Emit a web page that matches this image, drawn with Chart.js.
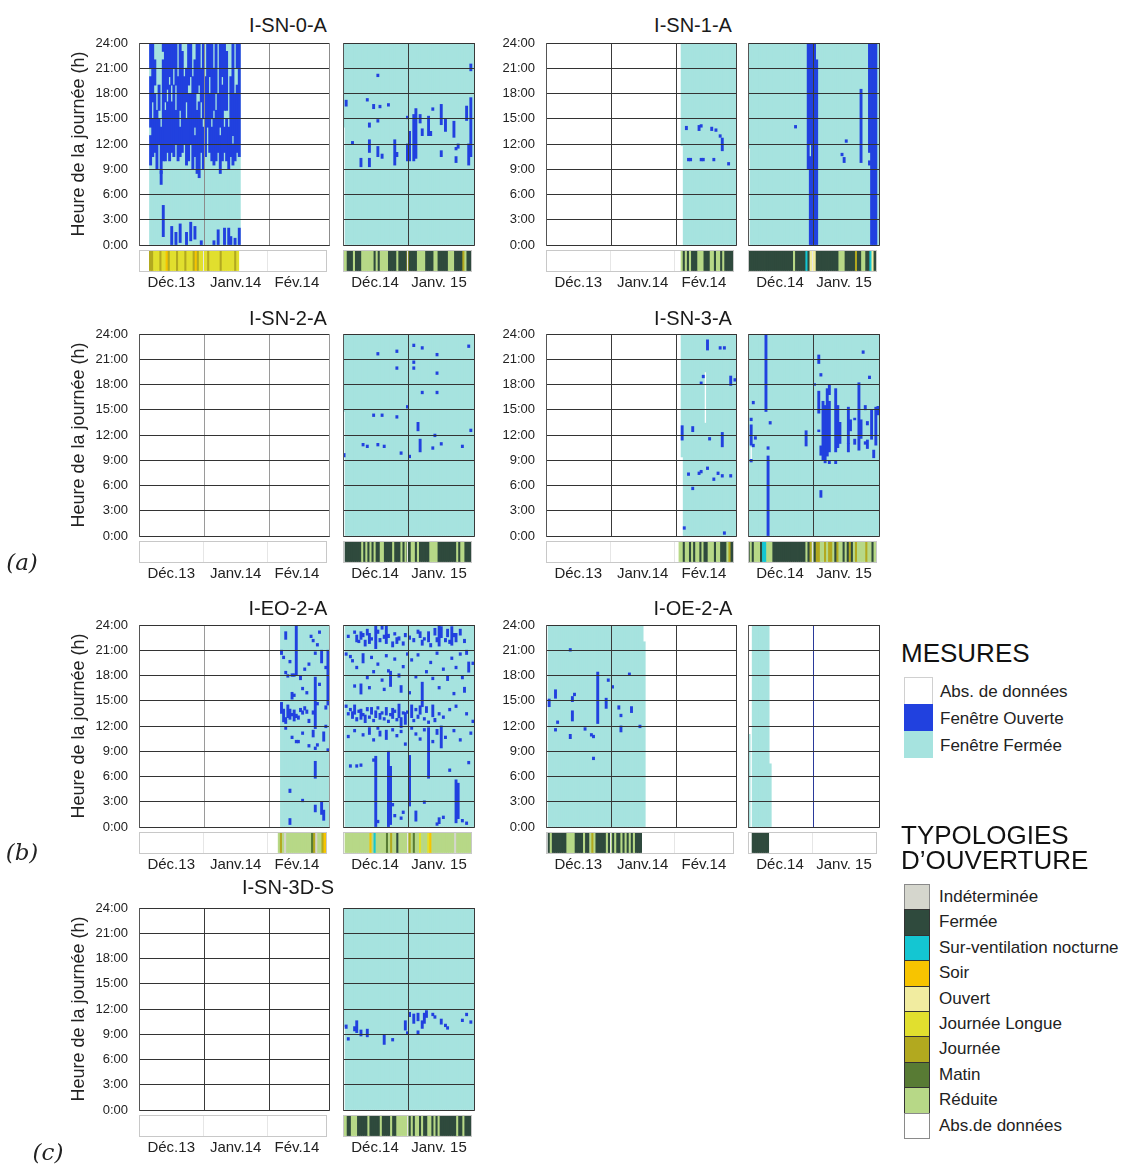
<!DOCTYPE html>
<html>
<head>
<meta charset="utf-8">
<script src="https://cdn.jsdelivr.net/npm/chart.js@4.4.0/dist/chart.umd.min.js"></script>
<style>
  body { margin:0; width:1135px; height:1164px; position:relative; overflow:hidden; background:#fff;
         font-family:"Liberation Sans", Arial, sans-serif; color:#222; }
  canvas { position:absolute; }
  .box { position:absolute; box-sizing:border-box; }
</style>
</head>
<body>
<script>
// ---- axes / categories ----
const hourTicks = [0, 3, 6, 9, 12, 15, 18, 21, 24];
const months13 = ['Déc.13', 'Janv.14', 'Fév.14'];
const months14 = ['Déc.14', 'Janv. 15'];
const bounds13 = [0, 31, 62, 90];   // days from 1 Dec 2013
const bounds14 = [0, 31, 62];       // days from 1 Dec 2014

// typology codes: I Indéterminée, F Fermée, N Sur-ventilation, S Soir, O Ouvert,
// L Journée Longue, J Journée, M Matin, R Réduite, - absence
const typoCodes = ['I', 'F', 'N', 'S', 'O', 'L', 'J', 'M', 'R', '-'];
const typoLabels = ['Indéterminée', 'Fermée', 'Sur-ventilation nocturne', 'Soir', 'Ouvert',
                    'Journée Longue', 'Journée', 'Matin', 'Réduite', 'Abs.de données'];
const typoColors = ['#d5d6cd', '#2f4a3d', '#14c6d2', '#f7c400', '#f1eca0',
                    '#e1df2e', '#b2a91f', '#587b34', '#b7d887', '#ffffff'];
const mesureLabels = ['Abs. de données', 'Fenêtre Ouverte', 'Fenêtre Fermée'];
const mesureColors = ['#ffffff', '#2141df', '#a6e3df'];

// ---- I-SN-0-A ----  closed: [fromDay, toDay, h0, h1]   open: [day, h0, h1]
const sn0a_closed13 = [[5, 47, 0, 24]];
const sn0a_open13 = [
  [5,9.5,13],[5,14,20],[5,21,24],[6,10.5,15],[6,17,24],[7,11,18],[7,19,22],[8,9,16],[9,12,15],[9,16,19],[10,8.5,14],
  [10,7.2,8.8],[11,10,22],[11,23,24],[12,10,16],[12,17,24],[13,11,17],[13,18.5,24],[14,10,19],[14,20,24],[15,11,17],[15,19,24],
  [16,10.5,19],[16,21,24],[17,12,16],[17,19,24],[18,10,20],[19,10.5,14],[19,16,24],[20,11,23],[21,12,20],[22,9.5,15],[22,17,21],
  [23,10,18],[23,19,24],[24,12,18],[24,20,24],[25,9,20],[26,10.5,13],[26,14,22],[27,8.5,16],[27,18,24],[28,8,17],[28,19,24],
  [29,11,15],[29,17,21],[30,9,14],[30,15,24],[31,10.5,20],[32,14,24],[33,11,18],[33,20,24],[34,10,14],[34,15,24],
  [35,9.5,15],[35,16,21],[36,10,16],[36,18,24],[37,11,18],[38,8.5,13],[38,14,24],[39,10,19],[39,20,24],[40,11,14],[40,16,24],
  [41,10,15],[41,16,23],[42,9,14],[43,10.5,20],[44,9.5,12],[44,13,24],[45,10,18],[46,11,19],[46,21,24],[47,10.5,24],
  [11,1,4.7],[15,0,2.2],[17,0,1.5],[19,0.3,2.5],[22,0,1.5],[24,0.5,2.7],[26,0.7,2.2],[29,0,0.5],[35,0,0.5],
  [37,0,1.8],[40,0,2],[42,0,2],[43,0,1],[45,0,0.8],[47,0,2]
];
const sn0a_typo13 = '-----JJLLLJLLSJLLLJLLLJLLLJSJLLLLJLLLLLJLLLLLLJL';
const sn0a_closed14 = [[0, 0, 14, 24], [1, 61, 0, 24]];
const sn0a_open14 = [
  [1,16.5,17.2],[4,12,12.3],[8,9.3,10.3],[11,17.1,17.4],[12,9.3,10.3],[12,11,12.5],[12,14,14.5],[14,16.2,16.7],
  [16,20,20.3],[16,14.6,14.9],[16,10.5,11.7],[17,16.3,16.6],[18,10.3,10.8],[21,16.5,16.8],[24,9.5,12.5],
  [25,10.5,11],[30,15,15.3],[30,10,12],[31,10,13.5],[33,10,15.5],[34,10.3,16.2],[36,14.5,15.5],[37,13,13.8],
  [40,13,15.3],[41,13,13.5],[42,16,16.3],[46,14.3,16.7],[46,10.5,11.2],[48,13.5,15],[52,12.8,14.7],
  [53,11.3,11.6],[53,9.8,10.5],[54,11.5,12],[58,14.8,16.5],[59,9.5,12],[60,10.5,17.5],[60,20.7,21.5]
];
const sn0a_typo14 = 'RRFFFRFFFRRRRRRFRFRRRRFFFFRFFFFJFFFFRRRRFFFFRRFFFFFRRRFFFFJRFF';

// ---- I-SN-1-A ----
const sn1a_closed13 = [[64, 64, 11.8, 24], [65, 89, 0, 24]];
const sn1a_open13 = [
  [66,13.7,14.1],[67,10,10.3],[68,10,10.3],[72,13.6,14.2],[73,14,14.3],[73,10,10.3],[74,10,10.3],
  [78,13.6,14],[79,10,10.3],[80,13.5,13.8],[82,12.8,13.1],[83,11.2,12.7],[86,9.5,9.8]
];
const sn1a_typo13 = '-'.repeat(65) + 'RFRFRFFFRRRFFFRRFRRFRFFFF';
const sn1a_closed14 = [[0, 0, 11.5, 24], [1, 61, 0, 24]];
const sn1a_open14 = [
  [22,13.9,14.2],[28,9,24],[29,0,10.5],[29,12,24],[30,0,24],[31,0,24],[32,0,22],
  [44,10.6,10.9],[45,9.8,10.4],[46,12.2,12.5],[53,9.8,18.5],[57,9.5,10],[57,11,24],[58,0,24],[59,0,24],[60,0,24]
];
const sn1a_typo14 = 'FFFFFFFFFFFFFFFFFFFFFFRFFFFFNFOOOFFFFFFFFFFFRRRFFFFFJFFRRFFNOF';

// ---- I-SN-2-A ----
const sn2a_closed13 = [];
const sn2a_open13 = [];
const sn2a_typo13 = '';
const sn2a_closed14 = [[0, 0, 14.8, 24], [1, 61, 0, 24]];
const sn2a_open14 = [
  [0,9.4,9.8],[9,10.7,11],[11,10.5,10.8],[14,14.2,14.5],[16,21.5,21.8],[16,10.7,11],[18,14.2,14.5],[19,10.5,10.8],
  [25,21.8,22.1],[25,19.8,20.1],[25,14,14.3],[27,9.7,10],[30,15.2,15.5],[31,9.3,9.6],[33,22.5,22.8],[33,20.5,20.8],
  [33,19.8,20.1],[35,12.5,13.5],[36,10,11.5],[37,22.2,22.5],[37,16.9,17.2],[42,10.3,10.6],[43,11.8,12.1],
  [44,21.4,21.7],[44,19.2,19.5],[44,16.9,17.2],[46,10.8,11.1],[56,10.5,10.8],[59,22.4,22.7],[60,12.4,12.7]
];
const sn2a_typo14 = '-FFFFFFFFRFRFRFRFFRRFFFFRFFFRFRFFRRFRFFFFFRRRRFFFFFFFFFRFRRFFF';

// ---- I-SN-3-A ----
const sn3a_closed13 = [[64, 64, 9.4, 24], [65, 74, 0, 24], [75, 75, 0, 13.4], [75, 75, 19.5, 24], [76, 89, 0, 24]];
const sn3a_open13 = [
  [64,11.4,13.1],[65,0.8,1.1],[67,7.2,7.5],[69,12.4,13],[69,5.5,5.8],[72,7.3,7.6],[73,7.5,7.8],[73,18,18.3],
  [74,18.8,19.1],[76,22.1,23.3],[77,11.4,11.7],[76,7.9,8.2],[79,6.6,6.9],[82,22.2,22.5],[84,22.2,22.5],
  [81,7.3,7.6],[83,7,7.3],[83,10.6,12.3],[84,0.2,0.5],[87,17.9,19],[87,7,7.3],[89,18.4,18.7]
];
const sn3a_typo13 = '-'.repeat(64) + 'RRFRRFRFRRFRFFRRRFRRFFFRJF';
const sn3a_closed14 = [[0, 0, 0, 24], [1, 1, 0, 9], [1, 1, 10.6, 24], [2, 61, 0, 24]];
const sn3a_open14 = [
  [8,14.8,24],[9,0,9.5],[1,10.8,13.2],[1,13.7,14],[1,8.8,9.1],[2,10.6,10.9],[2,15.7,16],[3,11.5,11.8],
  [9,10.3,10.6],[10,13.3,13.6],[27,10.7,12.5],[31,17.9,18.1],[33,20.5,21.5],[34,19,19.3],[33,14.6,17.2],
  [33,12.4,12.6],[34,9.6,10.7],[34,4.6,5.4],[35,9,16],[36,8.7,15.5],[37,9.5,17.5],[38,10,16],[38,16.8,18],
  [38,8.6,8.9],[41,8.6,8.9],[41,10,17.5],[42,10.5,15.5],[43,11,13.5],[47,11,15.3],[47,10,11],[48,12.5,13.8],
  [50,10.9,11.5],[50,13.8,14],[52,10.2,18.2],[53,11.6,13.8],[54,21.7,22],[57,18.7,19],[55,15,15.5],
  [56,13.2,13.6],[56,10.4,11.4],[55,10.9,11.2],[58,11.5,15],[59,9.3,10.2],[60,10.8,15.3],[61,14.4,15.4]
];
const sn3a_typo14 = 'FRFRRRFNNRRR' + 'FFFFFFFFFFFFFFFF' + 'RFJRFJJRRJRJJRFJRRFRFJFRJRRRRJRRFR';

// ---- I-EO-2-A ----
const eo2a_closed13 = [[67, 89, 0, 24]];
const eo2a_open13 = [
  [69,22.3,23.2],[74,18,24],[81,22.5,22.8],[82,22,22.3],[84,21.5,21.8],[85,23,23.3],[83,20.5,20.8],
  [67,20.5,21],[68,20,20.3],[71,19.5,19.8],[69,18.2,18.5],[70,17.8,18.1],[72,17.9,18.2],[73,17.9,18.2],
  [76,17.5,18],[78,18.6,18.9],[80,19.2,19.5],[86,19.5,21],[88,18.8,19.1],[83,11.7,17.8],[89,14.5,21],
  [72,15.2,16],[73,15.5,15.8],[77,16.3,16.6],[79,15.8,16.1],[85,16.8,17.1],
  [67,13.5,14.8],[68,12.5,14],[69,12.3,13],[70,13,14.5],[71,12.8,14],[72,13.2,13.5],[73,12.6,13.9],
  [74,13,13.4],[75,12.8,13.2],[76,13.7,14.1],[77,13.4,13.8],[78,13.9,14.3],[79,13.5,13.9],[80,12.4,12.8],
  [82,13.4,13.8],[84,14.5,14.8],[88,14,14.4],[69,11.6,11.9],[72,10.5,10.8],[74,10,10.3],[75,10,10.3],
  [77,11,11.3],[80,9.5,9.8],[82,10.7,11.5],[84,9.6,9.9],[87,10.2,11.3],[88,11.8,12.1],[89,9,9.3],
  [83,9.2,9.5],[83,5.8,7.8],[71,4.1,4.5],[77,3,3.3],[83,1.8,2.6],[86,1.5,3],[87,0.8,2],[71,0.3,1]
];
const eo2a_typo13 = '-'.repeat(67) + 'RJRIRRRRRRRRRRRRMJIRRJS';
const eo2a_closed14 = [[1, 61, 0, 24]];
const eo2a_open14 = [
  [2,22.5,22.8],[5,23,23.3],[6,22,22.8],[7,21.9,22.2],[8,22.3,23.2],[9,22.6,23],[10,21.5,22.2],[11,22.8,23.5],
  [12,21.8,23],[13,22.2,22.5],[15,21.2,24],[16,23,23.4],[17,22,22.4],[18,23.5,24],[19,22.4,22.8],[20,21.8,24],
  [21,22.5,22.9],[23,21.4,22],[24,22.8,23.1],[25,21.8,22.5],[26,22.2,22.6],[28,21.6,22],[29,22.6,23],
  [31,22.3,22.7],[33,22,22.4],[35,23,23.4],[36,22.5,23.2],[37,21.6,22.2],[38,22.2,22.5],[40,22,23.2],
  [41,21.4,21.8],[43,22.8,23.6],[44,22,22.5],[45,21.5,24],[46,22.5,23.8],[48,22,22.4],[49,22.6,23.5],
  [50,21.8,22.2],[51,21.6,23.8],[52,22.6,23],[53,22,23],[55,22.8,23.5],[57,21.9,22.3],
  [1,20.4,20.7],[3,20.1,20.4],[4,19.6,19.9],[6,18.8,19.1],[9,19.5,20.6],[11,17.6,18],[13,20,20.3],
  [14,18.3,18.6],[16,19.2,19.5],[18,17.3,17.6],[20,20.2,20.5],[21,18.4,18.7],[22,16.7,18.5],[24,19.8,20.1],
  [26,17.8,18.2],[28,18.9,19.2],[30,20.4,20.7],[32,19.7,20],[34,17.7,18],[35,20.3,20.6],[37,14.3,17.2],
  [39,18.3,18.6],[41,19.4,19.7],[42,17.5,17.8],[44,20.5,20.8],[47,18.6,18.9],[49,17.4,18],[51,19.9,20.2],
  [53,18.8,19.1],[55,20.4,20.7],[56,17.6,17.9],[58,20.5,21],[59,18.4,19.6],[61,19.3,19.6],
  [5,16.6,16.9],[8,15.8,17],[12,16.4,16.7],[19,16.2,16.5],[27,16,16.8],[31,15.8,16.1],[45,16.4,16.7],
  [52,15.7,16],[57,16,16.6],
  [1,14.2,14.5],[2,13.3,13.6],[3,13.8,14.1],[4,12.9,13.7],[5,13.4,14.5],[6,12.6,13],[7,13.6,13.9],[8,12.8,14],
  [9,13.2,13.5],[10,12.4,13.3],[11,13.8,14.2],[12,12.9,13.2],[13,13.4,14.2],[14,12.5,12.8],[15,13,13.8],
  [16,14,14.3],[17,12.8,13.5],[18,13.4,13.7],[19,12.7,13],[20,13.3,14.2],[21,12.4,12.7],[22,13.2,13.5],
  [23,12.9,14.1],[24,13.6,13.9],[25,12.6,12.9],[26,13,14.6],[27,11.8,13],[28,13.4,13.7],[29,12.2,13.6],
  [30,13.5,13.8],[32,13,14.5],[33,12.5,12.8],[34,13.8,14.1],[35,12.9,13.3],[36,13.4,14.4],[38,12.7,13],
  [39,13.6,14.3],[40,12.3,12.6],[42,13.1,14.5],[43,12.5,12.9],[45,13.3,13.6],[47,12.9,13.2],[50,13.8,14.1],
  [53,14.2,14.5],[58,13.3,13.6],[61,12.4,12.7],
  [2,10.6,10.9],[5,11.3,11.6],[9,10.8,11.1],[12,11,11.8],[14,10.2,10.5],[16,11.6,11.9],[17,10.8,11.4],
  [20,10.4,11.5],[23,11.4,11.7],[25,10.7,11],[27,11.2,11.5],[29,9.7,10],[32,11.6,11.9],[34,10.9,11.2],
  [36,10.3,10.6],[38,11.4,11.7],[42,10,10.3],[44,11,11.6],[46,9.4,12],[48,10.5,10.8],[52,11.3,11.6],
  [55,10.2,10.5],[60,11,11.3],
  [3,7.1,7.4],[6,7.1,7.4],[8,7.2,7.5],[14,7.8,8.1],[15,0,8.4],[16,0.5,0.8],[21,0,9],[22,0.3,7.2],[23,2.5,2.8],
  [24,1.2,1.5],[27,0.9,1.2],[28,1.6,1.9],[31,2.5,8.5],[34,0.7,1.9],[38,2.8,3.1],[40,5.8,11.8],[44,0.2,0.5],
  [45,0.4,1.1],[47,1,1.3],[50,6.6,6.9],[53,0.5,5.6],[54,1,5.2],[56,0.6,0.9],[58,0.3,0.6],[59,7.5,7.8]
];
const eo2a_typo14 = '-RRRRRRRRRRRRSRNRRRRRMRJRRFRRRRRJRMRRLRRRLSRRRRRRRRRRRIRRRRRRR';

// ---- I-OE-2-A ----
const oe2a_closed13 = [[1, 45, 0, 24], [46, 46, 0, 22]];
const oe2a_open13 = [
  [1,14.3,15.2],[4,15.3,16.3],[4,11.4,11.7],[5,12.3,12.6],[11,20.9,21.2],[11,10.5,11],[12,14.9,15.5],
  [13,15.6,15.9],[12,12.6,13.8],[18,11.5,11.8],[21,10.8,11.1],[22,10.6,10.9],[22,8,8.3],[24,12.3,18.4],
  [28,14.1,15.3],[29,17.3,17.6],[31,16.5,16.8],[34,14,14.4],[35,13.1,13.4],[35,11.3,12],[39,18,18.3],
  [40,13.6,14.3],[44,11.8,12.1]
];
const oe2a_typo13 = '-FRFFFFFFFRRRRFFFFRFFRJRFFFFFRFRFRFFRFRFRFRFFF';
const oe2a_closed14 = [[0, 0, 0, 11], [2, 9, 0, 24], [10, 10, 0, 7.5]];
const oe2a_open14 = [];
const oe2a_typo14 = '--FFFFFFFF';

// ---- I-SN-3D-S ----
const sn3ds_closed13 = [];
const sn3ds_open13 = [];
const sn3ds_typo13 = '';
const sn3ds_closed14 = [[0, 0, 9.9, 24], [1, 61, 0, 24]];
const sn3ds_open14 = [
  [1,9.7,10.1],[2,8.3,8.6],[5,9.4,9.9],[6,9.2,10.6],[8,8.8,9.5],[11,8.7,9.6],[19,7.8,8.9],[23,8.2,8.5],
  [29,9.5,10.6],[30,9,9.3],[31,11.1,11.6],[33,10.3,11.4],[35,10.6,11.5],[35,9,9.4],[37,9.7,10.6],
  [38,10.3,11.5],[39,11,11.8],[42,11.2,11.5],[43,10.9,11.2],[46,10.2,10.8],[48,9.9,10.2],[49,9.6,9.9],
  [56,10.5,10.8],[58,11.2,11.5],[60,10.3,10.6]
];
const sn3ds_typo14 = 'RRFFRRRFFFFFRFFFFFRFFFFRFFRRRRRRFRFRRFRFFRRFRFRFFFFFFFFRFFRFFF';

// ---- page layout ----
const FONT = '"Liberation Sans", Arial, sans-serif';
const TEAL = mesureColors[2], BLUE = mesureColors[1];
const cols = [{l13: 139, l14: 343, tx: 288}, {l13: 546, l14: 748, tx: 693}];
const rows = [{top: 43, strip: 250, ty: 25}, {top: 334, strip: 541, ty: 318},
              {top: 625, strip: 832, ty: 608}, {top: 908, strip: 1115, ty: 887}];
const W13 = 190, W14 = 131, PH = 202, SH = 21;

const panels = [
  {name: 'I-SN-0-A', col: 0, row: 0, c13: sn0a_closed13, o13: sn0a_open13, t13: sn0a_typo13, c14: sn0a_closed14, o14: sn0a_open14, t14: sn0a_typo14, g13: '#8c8c8c'},
  {name: 'I-SN-1-A', col: 1, row: 0, c13: sn1a_closed13, o13: sn1a_open13, t13: sn1a_typo13, c14: sn1a_closed14, o14: sn1a_open14, t14: sn1a_typo14},
  {name: 'I-SN-2-A', col: 0, row: 1, c13: sn2a_closed13, o13: sn2a_open13, t13: sn2a_typo13, c14: sn2a_closed14, o14: sn2a_open14, t14: sn2a_typo14, g13: '#9a9a9a'},
  {name: 'I-SN-3-A', col: 1, row: 1, c13: sn3a_closed13, o13: sn3a_open13, t13: sn3a_typo13, c14: sn3a_closed14, o14: sn3a_open14, t14: sn3a_typo14},
  {name: 'I-EO-2-A', col: 0, row: 2, c13: eo2a_closed13, o13: eo2a_open13, t13: eo2a_typo13, c14: eo2a_closed14, o14: eo2a_open14, t14: eo2a_typo14, g13: '#9a9a9a'},
  {name: 'I-OE-2-A', col: 1, row: 2, c13: oe2a_closed13, o13: oe2a_open13, t13: oe2a_typo13, c14: oe2a_closed14, o14: oe2a_open14, t14: oe2a_typo14, mid14: '#2a3a9a'},
  {name: 'I-SN-3D-S', col: 0, row: 3, c13: sn3ds_closed13, o13: sn3ds_open13, t13: sn3ds_typo13, c14: sn3ds_closed14, o14: sn3ds_open14, t14: sn3ds_typo14}
];

function addText(txt, x, y, css) {
  const d = document.createElement('div');
  d.textContent = txt;
  d.style.cssText = 'position:absolute;white-space:nowrap;left:' + x + 'px;top:' + y + 'px;' + css;
  document.body.appendChild(d);
  return d;
}

function addCanvas(w, h) {
  const cv = document.createElement('canvas');
  cv.width = w; cv.height = h;
  cv.style.width = w + 'px'; cv.style.height = h + 'px';
  document.body.appendChild(cv);
  return cv;
}

// move canvas so the chart area lands on (px, py)
function place(chart, cv, px, py) {
  const ca = chart.chartArea;
  cv.style.left = (px - ca.left) + 'px';
  cv.style.top = (py - ca.top) + 'px';
}

function mainChart(px, py, pw, nDays, bounds, closed, open, opt) {
  const yw = opt.ticks ? 80 : 0;
  const cv = addCanvas(yw + pw + 4, PH + 48);
  const closedPts = [];
  closed.forEach(([a, b, s, e]) => { for (let d = a; d <= b; d++) closedPts.push({x: d + 0.5, y: [s, e]}); });
  const openPts = open.map(([d, s, e]) => ({x: d + 0.5, y: [s, e]}));
  const gcol = opt.grid || '#3a3a3a';
  const chart = new Chart(cv, {
    type: 'bar',
    data: {datasets: [
      {data: openPts, backgroundColor: BLUE},      // first dataset is drawn on top
      {data: closedPts, backgroundColor: TEAL}
    ]},
    options: {
      responsive: false, animation: false, devicePixelRatio: 1,
      layout: {padding: {top: 24, bottom: 24, left: 0, right: 4}},
      plugins: {legend: {display: false}, tooltip: {enabled: false}},
      datasets: {bar: {grouped: false, barPercentage: 1, categoryPercentage: 1, borderWidth: 0, inflateAmount: 0.4}},
      scales: {
        x: {
          type: 'linear', min: 0, max: nDays, offset: false,
          afterBuildTicks: s => { s.ticks = bounds.map(v => ({value: v})); },
          afterFit: s => { s.height = 0; },
          ticks: {display: false},
          grid: {offset: false, drawTicks: false, z: 1, color: c => (opt.mid && c.tick && c.tick.value === 31) ? opt.mid : gcol},
          border: {color: '#555', z: 1}
        },
        y: {
          min: 0, max: 24,
          afterBuildTicks: s => { s.ticks = hourTicks.map(v => ({value: v})); },
          afterFit: s => { s.width = yw; },
          ticks: {display: opt.ticks, padding: 11, color: '#222', font: {size: 13, family: FONT}, callback: v => v + ':00'},
          grid: {drawTicks: false, z: 1, color: '#333333'},
          border: {color: '#555', z: 1},
          title: {display: !!opt.title, text: 'Heure de la journée (h)', color: '#222',
                  font: {size: 18, family: FONT}, padding: {top: 9, bottom: 0}}
        }
      }
    }
  });
  place(chart, cv, px, py);
}

function stripChart(px, py, pw, nDays, bounds, labels, codes) {
  const cv = addCanvas(pw + 4, SH + 26);
  const pts = [];
  for (let d = 0; d < Math.min(codes.length, nDays); d++) {
    const k = typoCodes.indexOf(codes[d]);
    if (k >= 0 && codes[d] !== '-') pts.push({x: d + 0.5, y: [0, 1], c: typoColors[k]});
  }
  const mids = labels.map((l, i) => (bounds[i] + bounds[i + 1]) / 2);
  const tickVals = bounds.concat(mids).sort((a, b) => a - b);
  const chart = new Chart(cv, {
    type: 'bar',
    data: {datasets: [{data: pts, backgroundColor: c => c.raw ? c.raw.c : '#fff'}]},
    options: {
      responsive: false, animation: false, devicePixelRatio: 1,
      layout: {padding: {top: 2, bottom: 0, left: 0, right: 4}},
      plugins: {legend: {display: false}, tooltip: {enabled: false}},
      datasets: {bar: {grouped: false, barPercentage: 1, categoryPercentage: 1, borderWidth: 0, inflateAmount: 0.4}},
      scales: {
        x: {
          type: 'linear', min: 0, max: nDays, offset: false,
          afterBuildTicks: s => { s.ticks = tickVals.map(v => ({value: v})); },
          afterFit: s => { s.height = 24; },
          ticks: {autoSkip: false, maxRotation: 0, minRotation: 0, padding: 3, color: '#222',
                  font: {size: 15, family: FONT},
                  callback: v => { const i = mids.indexOf(v); return i >= 0 ? labels[i] : ''; }},
          grid: {offset: false, drawTicks: false, z: 1, color: c => {
            const v = c.tick ? c.tick.value : -1;
            if (v === 0 || v === nDays) return '#c8c8c8';
            return bounds.includes(v) ? '#e6e6e6' : 'rgba(0,0,0,0)';
          }},
          border: {color: '#c8c8c8', z: 1}
        },
        y: {
          min: 0, max: 1,
          afterBuildTicks: s => { s.ticks = [{value: 0}, {value: 1}]; },
          afterFit: s => { s.width = 0; },
          ticks: {display: false},
          grid: {drawTicks: false, z: 1, color: '#c8c8c8'},
          border: {color: '#c8c8c8', z: 1}
        }
      }
    }
  });
  place(chart, cv, px, py);
}

panels.forEach(p => {
  const c = cols[p.col], r = rows[p.row];
  addText(p.name, c.tx, r.ty, 'transform:translate(-50%,-50%);font-size:20px;color:#1a1a1a;');
  mainChart(c.l13, r.top, W13, 90, bounds13, p.c13, p.o13, {ticks: true, title: p.col === 0, grid: p.g13});
  mainChart(c.l14, r.top, W14, 62, bounds14, p.c14, p.o14, {ticks: false, mid: p.mid14});
  stripChart(c.l13, r.strip, W13, 90, bounds13, months13, p.t13);
  stripChart(c.l14, r.strip, W14, 62, bounds14, months14, p.t14);
});

// ---- legends ----
addText('MESURES', 901, 653, 'transform:translateY(-50%);font-size:26px;color:#111;');
mesureLabels.forEach((lab, i) => {
  const b = document.createElement('div');
  b.className = 'box';
  b.style.cssText += 'left:904px;top:' + (677 + 27 * i) + 'px;width:29px;height:27px;background:' + mesureColors[i] +
    (i === 0 ? ';border:1px solid #d0d0d0;border-bottom:none;' : ';');
  document.body.appendChild(b);
  addText(lab, 940, 692 + 27 * i, 'transform:translateY(-50%);font-size:17px;color:#222;');
});

addText('TYPOLOGIES', 901, 835, 'transform:translateY(-50%);font-size:26px;color:#111;');
addText('D\u2019OUVERTURE', 901, 860, 'transform:translateY(-50%);font-size:26px;color:#111;');
typoLabels.forEach((lab, i) => {
  const b = document.createElement('div');
  b.className = 'box';
  b.style.cssText += 'left:904px;top:' + (884 + 25.4 * i) + 'px;width:26px;height:26.4px;background:' + typoColors[i] +
    ';border:1px solid ' + (i === 0 || i === 9 ? '#8a8a8a' : '#333') + ';';
  document.body.appendChild(b);
  addText(lab, 939, 897 + 25.4 * i, 'transform:translateY(-50%);font-size:17px;color:#222;');
});

// ---- panel group letters ----
const groupLetters = [['(a)', 22, 562], ['(b)', 22, 852], ['(c)', 48, 1152]];
groupLetters.forEach(([t, x, y]) => {
  addText(t, x, y, 'transform:translate(-50%,-50%);font-size:23px;font-style:italic;font-family:"DejaVu Serif","Liberation Serif",serif;color:#222;');
});
</script>
</body>
</html>
